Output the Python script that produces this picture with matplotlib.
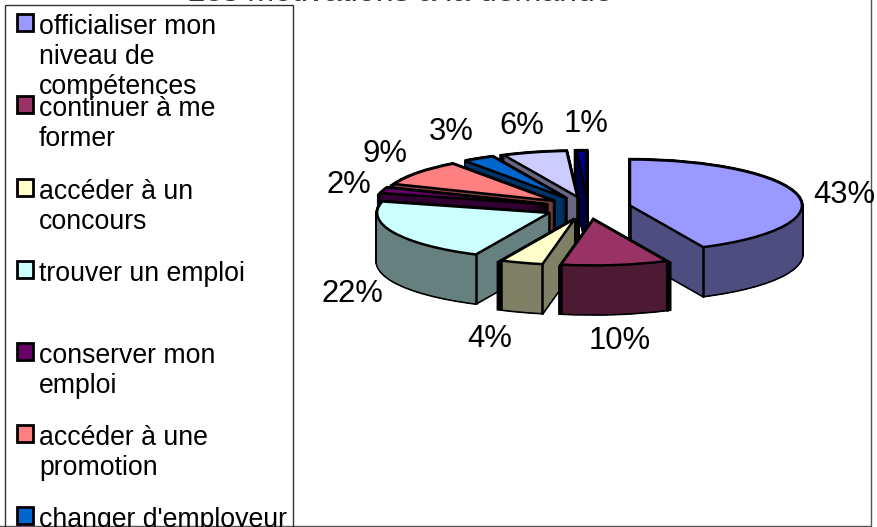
import numpy as np
import matplotlib
matplotlib.use("Agg")
import matplotlib.pyplot as plt
from matplotlib.patches import Rectangle

plt.rcParams["font.family"] = ["Liberation Sans", "DejaVu Sans"]

W, H = 877, 527

# seules 7 entrees de legende sont visibles, le reste est coupe par l'image
categories = ["officialiser mon\nniveau de\ncompétences", "continuer à me\nformer",
              "accéder à un\nconcours", "trouver un emploi", "conserver mon\nemploi",
              "accéder à une\npromotion", "changer d'employeur"]
values = [43, 10, 4, 22, 2, 9, 3, 6, 1]
colors = ["#9999FF", "#993366", "#FFFFCC", "#CCFFFF", "#660066", "#FF8080", "#0066CC", "#CCCCFF", "#000080"]
side_colors = ["#4D4D80", "#4C1A33", "#808066", "#668080", "#330033", "#804040", "#003366", "#666680", "#000040"]

# places des etiquettes, en pixels de l'image
label_x = [844, 620, 490, 352, 349, 385, 451, 522, 586]
label_y = [195, 341, 339, 294, 185, 154, 132, 126, 124]
legend_y = [25, 107, 190, 272, 354, 436, 518]

fig = plt.figure(figsize=(W / 100, H / 100), dpi=100)

# fond en coordonnees pixels : cadre, legende, titre
bg = fig.add_axes([0, 0, 1, 1], zorder=0)
bg.set_xlim(0, W)
bg.set_ylim(H, 0)
bg.axis("off")
bg.plot([0, 871, 871], [526, 526, 0], color="#555555", lw=1)
bg.text(400, -7, "Les motivations à la demande", ha="center", va="center", fontsize=23, color="#333333")

# le camembert : une unite = rayon, x et y ont des echelles differentes pour l'effet 3D
rx, ry = 172, 46
cx, cy = 588, 208
depth = 1.06
ax = fig.add_axes([(cx - 2 * rx) / W, 1 - (cy + 3 * ry) / H, 4 * rx / W, 6 * ry / H], zorder=1)
ax.patch.set_visible(False)

explode = [0.25] * len(values)
mids = (np.cumsum(values) - np.array(values) / 2) * 3.6
order = np.argsort(np.argsort(-np.cos(np.radians(mids))))  # du fond vers l'avant

for d in np.linspace(depth, 0, 120):
    wedges, _ = ax.pie(values, explode=explode, startangle=90, counterclock=False,
                       colors=side_colors, center=(0, -d), frame=False)
    for w, rank in zip(wedges, order):
        w.set_zorder(10 + rank * 10 + 1)
    # silhouette noire sous les flancs
    wedges2, _ = ax.pie(values, explode=explode, startangle=90, counterclock=False,
                        colors=side_colors, center=(0, -d), frame=False,
                        wedgeprops=dict(edgecolor="black", linewidth=2.4))
    for w, rank in zip(wedges2, order):
        w.set_zorder(10 + rank * 10)

wedges, _ = ax.pie(values, explode=explode, startangle=90, counterclock=False, colors=colors,
                   center=(0, 0), frame=False, wedgeprops=dict(edgecolor="black", linewidth=1.8))
for w, rank, m in zip(wedges, order, mids):
    w.set_zorder(10 + rank * 10 + 3)
    # aretes verticales des flancs
    x0, y0 = w.center
    for th in (w.theta1, w.theta2):
        px = x0 + np.cos(np.radians(th))
        py = y0 + np.sin(np.radians(th))
        if py < y0:
            ax.plot([px, px], [py, py - depth], color="black", lw=1.8, zorder=10 + rank * 10 + 2)
    # l'arete du centre est cachee si la part passe par le bas
    if not (w.theta1 % 360 <= 270 <= w.theta1 % 360 + (w.theta2 - w.theta1)):
        ax.plot([x0, x0], [y0, y0 - depth], color="black", lw=1.8, zorder=10 + rank * 10 + 2)

ax.set_aspect("auto")
ax.set_xlim(-2, 2)
ax.set_ylim(-3, 3)
ax.axis("off")

# par dessus : legende et pourcentages
top = fig.add_axes([0, 0, 1, 1], zorder=2)
top.set_xlim(0, W)
top.set_ylim(H, 0)
top.axis("off")
top.patch.set_visible(False)
clip = Rectangle((0, 0), W, 526, transform=top.transData)
top.add_patch(Rectangle((5, 5), 288, 525, fc="none", ec="#333333", lw=1, clip_path=clip))
for name, col, y in zip(categories, colors, legend_y):
    top.add_patch(Rectangle((16.5, y - 11), 16, 17, fc=col, ec="black", lw=2, clip_path=clip))
    t = top.text(39, y - 11, name, ha="left", va="top", fontsize=19.2, linespacing=1.2)
    t.set_clip_path(clip)

for v, x, y in zip(values, label_x, label_y):
    top.text(x, y, f"{v}%", ha="center", va="center", fontsize=22.3)

fig.savefig("out.png", dpi=100)
